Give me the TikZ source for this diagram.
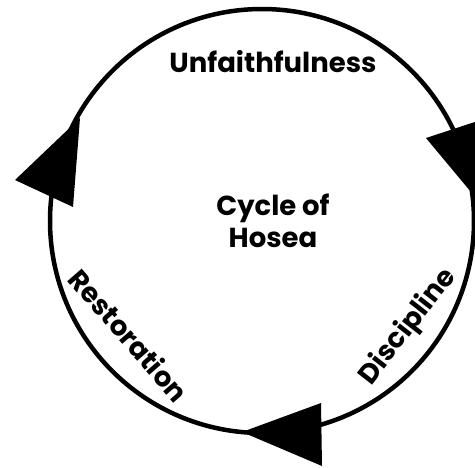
\documentclass[tikz,border=0pt]{standalone}
\usepackage{fontspec}
\setmainfont{Poppins}
\usepackage{tikz}
\usetikzlibrary{positioning}

\begin{document}
\begin{tikzpicture}[x=1pt,y=-1pt,
    stage/.style={font=\bfseries\fontsize{27.5}{32}\selectfont,align=center,inner sep=0pt},
    head/.style={fill=black,draw=none}]
  \useasboundingbox (0,0) rectangle (475,467);
  % the cycle
  \node (ring) [circle,draw,line width=4.5pt,minimum size=424pt,inner sep=0pt] at (262,221) {};
  % arrow heads, clockwise
  \fill[head] (426,138) -- (487,118) -- (481,204) -- cycle;
  \fill[head] (242,432) -- (321,403) -- (322,466) -- cycle;
  \fill[head] (80,118) -- (15,180) -- (73,207) -- cycle;
  % labels
  \node (unf) [stage] at (273,62) {Unfaithfulness};
  \node (title) [stage] at (273,221) {Cycle of\\Hosea};
  \node (dis) [stage,rotate=52] at (408,327) {Discipline};
  \node (res) [stage,rotate=-49] at (129,335) {Restoration};
\end{tikzpicture}
\end{document}
